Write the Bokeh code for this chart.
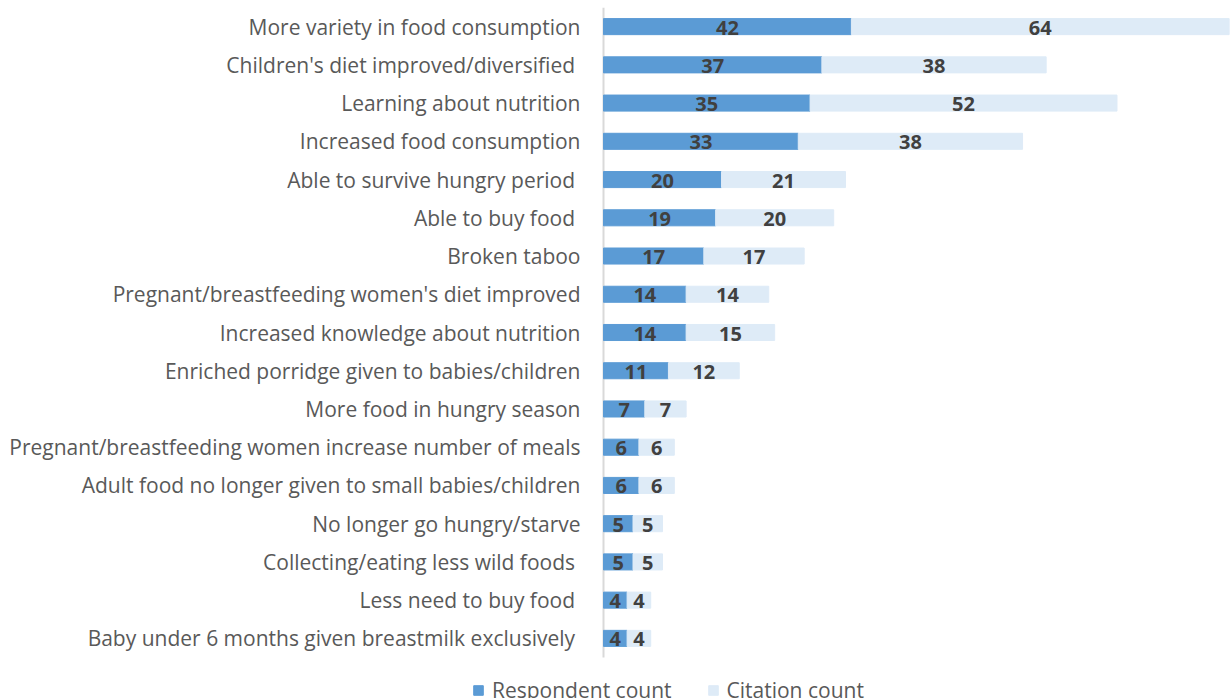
from bokeh.plotting import figure
from bokeh.models import ColumnDataSource, Legend, LegendItem, Range1d
from bokeh.core.properties import value
from bokeh.embed import file_html
from bokeh.resources import INLINE

categories = [
    "More variety in food consumption",
    "Children's diet improved/diversified ",
    "Learning about nutrition",
    "Increased food consumption",
    "Able to survive hungry period ",
    "Able to buy food ",
    "Broken taboo",
    "Pregnant/breastfeeding women's diet improved",
    "Increased knowledge about nutrition",
    "Enriched porridge given to babies/children",
    "More food in hungry season",
    "Pregnant/breastfeeding women increase number of meals",
    "Adult food no longer given to small babies/children",
    "No longer go hungry/starve",
    "Collecting/eating less wild foods ",
    "Less need to buy food ",
    "Baby under 6 months given breastmilk exclusively ",
]
respondent_count = [42, 37, 35, 33, 20, 19, 17, 14, 14, 11, 7, 6, 6, 5, 5, 4, 4]
citation_count = [64, 38, 52, 38, 21, 20, 17, 14, 15, 12, 7, 6, 6, 5, 5, 4, 4]
series_names = ["Respondent count", "Citation count"]

DARK = "#5B9BD5"
LIGHT = "#DEEBF7"
FONT = "Open Sans"

# layout constants (pixels)
W, H, TOP = 1231, 698, 7
AXIS_PX = 603          # where value 0 sits
BARS_PX = 650          # height of the bar area
X_MAX = 106.4

n = len(categories)
pos = [n - 1 - i for i in range(n)]   # first category on top
unit_px = BARS_PX / n
frame_h = H - TOP
y_top = n - 0.5
y_bottom = y_top - frame_h / unit_px
px_per_val = (W - AXIS_PX) / X_MAX
x_left = -AXIS_PX / px_per_val

total = [r + c for r, c in zip(respondent_count, citation_count)]
source = ColumnDataSource(dict(
    y=pos,
    cat=categories,
    resp=respondent_count,
    cit=citation_count,
    total=total,
    zero=[0] * n,
    resp_mid=[r / 2 for r in respondent_count],
    cit_mid=[r + c / 2 for r, c in zip(respondent_count, citation_count)],
    resp_txt=[str(v) for v in respondent_count],
    cit_txt=[str(v) for v in citation_count],
))

p = figure(
    width=W, height=H,
    x_range=Range1d(x_left, X_MAX), y_range=Range1d(y_bottom, y_top),
    x_axis_location=None, y_axis_location=None,
    output_backend="svg", toolbar_location=None,
    min_border_top=TOP, min_border_left=0, min_border_right=0, min_border_bottom=0,
)
p.outline_line_color = None
p.grid.visible = False

# vertical category axis line at value 0
p.segment(x0=0, y0=min(pos) - 0.5, x1=0, y1=max(pos) + 0.5,
          line_color="#D9D9D9", line_width=2)

# category labels
p.text(x="zero", y="y", text="cat", source=source,
       text_align="right", text_baseline="middle", x_offset=-23,
       text_font=value(FONT), text_font_size="21px", text_color="#595959")

r1 = p.hbar(y="y", left=0, right="resp", height=0.42, color=DARK, source=source)
r2 = p.hbar(y="y", left="resp", right="total", height=0.42, color=LIGHT, source=source)

for xcol, tcol in (("resp_mid", "resp_txt"), ("cit_mid", "cit_txt")):
    p.text(x=xcol, y="y", text=tcol, source=source,
           text_align="center", text_baseline="middle",
           text_font=value(FONT), text_font_style="bold",
           text_font_size="20px", text_color="#404040", y_offset=1)

legend = Legend(items=[
    LegendItem(label=series_names[0], renderers=[r1]),
    LegendItem(label=series_names[1], renderers=[r2]),
], orientation="horizontal", location=(472, -6))
legend.label_text_font = FONT
legend.label_text_font_size = "21px"
legend.label_text_color = "#595959"
legend.glyph_width = 12
legend.glyph_height = 12
legend.label_height = 12
legend.label_standoff = 8
legend.spacing = 35
legend.padding = 0
legend.margin = 0
legend.border_line_color = None
legend.background_fill_alpha = 0
p.add_layout(legend, "center")

open("out.html", "w").write(file_html(p, INLINE))
